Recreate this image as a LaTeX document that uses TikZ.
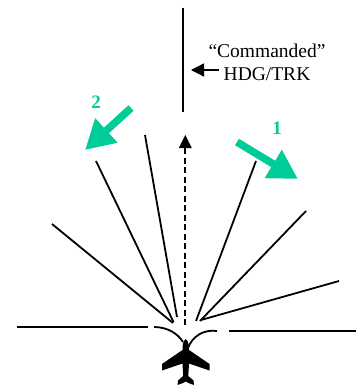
\documentclass[tikz,border=0pt]{standalone}
\usepackage{fontspec}
\setmainfont{Liberation Serif}
\usetikzlibrary{arrows.meta}
\definecolor{tealgreen}{HTML}{00CC99}
\tikzset{
  ray/.style={draw=black,line width=1.8pt},
  txt/.style={font=\fontsize{19.5}{22}\selectfont,inner sep=0pt,text=black},
  num/.style={font=\fontsize{19}{20}\selectfont\bfseries,inner sep=0pt,text=tealgreen},
  bigarrow/.style={draw=tealgreen,line width=7.5pt,-{Triangle[length=29pt,width=31pt]}},
}
\begin{document}
\begin{tikzpicture}[x=1pt,y=-1pt]
\useasboundingbox (0,0) rectangle (356,385);
% free ends
\coordinate (cmdTop) at (182.7,8);
\coordinate (cmdBot) at (182.7,112);
\coordinate (dashBot) at (185.3,325);
\coordinate (dashTop) at (185.3,135);
\coordinate (a1) at (52,224);   \coordinate (a2) at (173,323);
\coordinate (b1) at (96,161);   \coordinate (b2) at (173.5,322);
\coordinate (c1) at (145,135);  \coordinate (c2) at (177,317);
\coordinate (d1) at (256,161);  \coordinate (d2) at (196,321);
\coordinate (e1) at (306,211);  \coordinate (e2) at (200,321);
\coordinate (f1) at (339,281);  \coordinate (f2) at (201,320);
\coordinate (hl1) at (17,327);  \coordinate (hl2) at (148,327);
\coordinate (hr1) at (229,331); \coordinate (hr2) at (356,331);
\coordinate (cl1) at (154,327); \coordinate (cl2) at (183,342);
\coordinate (cr1) at (217,331); \coordinate (cr2) at (188,348);
% lines
\draw[ray] (cmdTop) -- (cmdBot);
\foreach \p/\q in {a1/a2,b1/b2,c1/c2,d1/d2,e1/e2,f1/f2,hl1/hl2,hr1/hr2}
  \draw[ray] (\p) -- (\q);
\draw[ray] (cl1) .. controls (168,327) and (178,334) .. (cl2);
\draw[ray] (cr1) .. controls (203,329) and (192,337) .. (cr2);
% dashed heading arrow
\draw[line width=1.7pt,dash pattern=on 6pt off 3.5pt] (dashBot) -- (185.3,146);
\fill[black] (dashTop) -- (191.8,148) -- (178.8,148) -- cycle;
% label
\node[txt] (cmdA) at (267,51) {“Commanded”};
\node[txt] (cmdB) at (267,74) {HDG/TRK};
\coordinate (lblTip) at (191,70);
\coordinate (lblTail) at (219,70);
\draw[line width=1.3pt,-{Triangle[length=13pt,width=13pt]}] (lblTail) -- (lblTip);
% green arrows
\coordinate (g2a) at (131,108); \coordinate (g2b) at (85,150);
\coordinate (g1a) at (237,142); \coordinate (g1b) at (298,179);
\draw[bigarrow] (g2a) -- (g2b);
\draw[bigarrow] (g1a) -- (g1b);
\node[num] (n2) at (96,102) {2};
\node[num] (n1) at (277,128) {1};
% aircraft
\fill[black] (185.7,339) .. controls (183,341) and (182.5,345) .. (182.5,350)
 -- (162,364) -- (162,370.5) -- (182.5,363.5) -- (183.2,376) -- (178,380.5) -- (177.5,385)
 -- (183,383) -- (185.7,381.5) -- (188.5,383) -- (194,385) -- (193.5,380.5) -- (188.3,376)
 -- (189,363.5) -- (209.5,370.5) -- (209.5,364) -- (189,350)
 .. controls (189,345) and (188.4,341) .. cycle;
\end{tikzpicture}
\end{document}
